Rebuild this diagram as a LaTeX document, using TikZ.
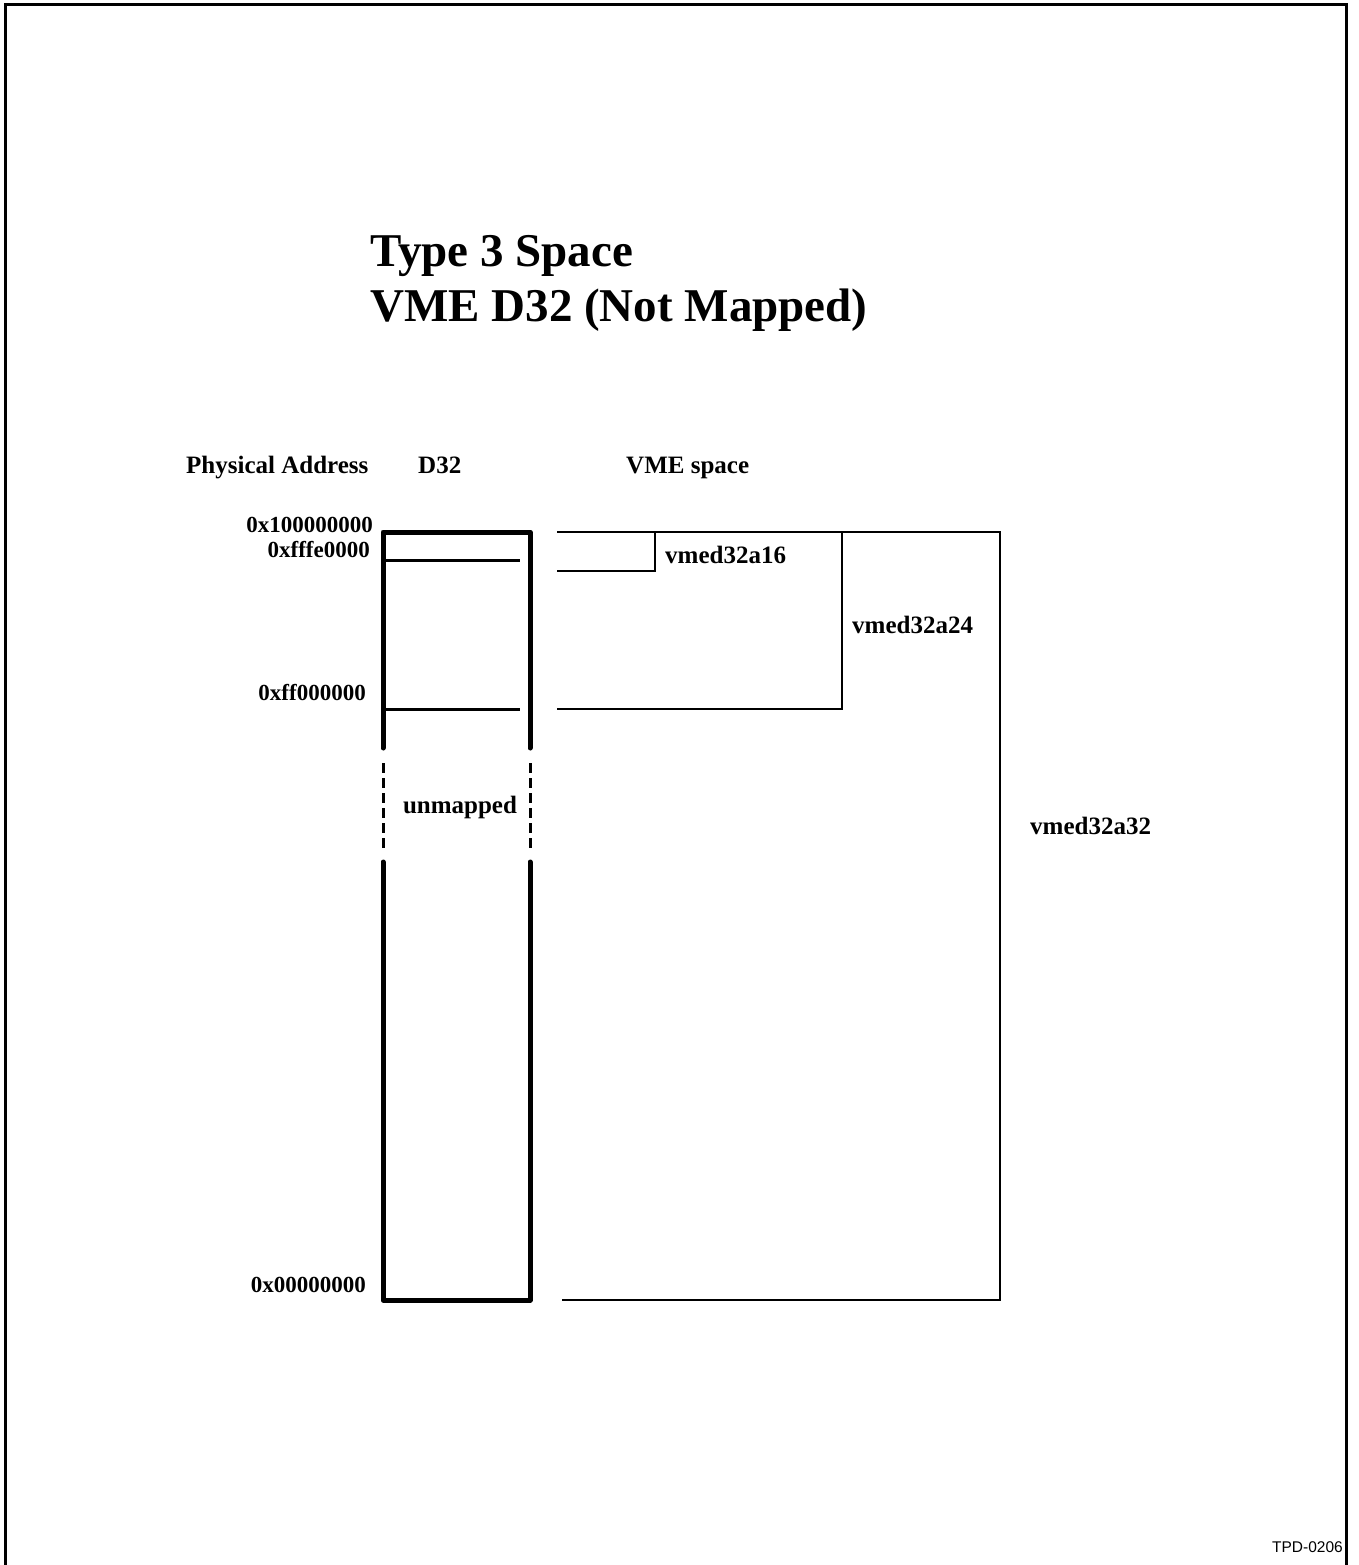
\documentclass[tikz,border=0pt]{standalone}
\usepackage{fontspec}
\setmainfont{Liberation Serif}
\newfontfamily\tpdfont{Liberation Sans}
\begin{document}
\begin{tikzpicture}[x=1pt,y=-1pt,
  title/.style={anchor=base west,inner sep=0pt,font=\fontsize{47}{56}\selectfont\bfseries},
  lbl/.style={inner sep=0pt,font=\fontsize{25}{29}\selectfont\bfseries},
  addr/.style={inner sep=0pt,anchor=base east,font=\fontsize{23}{27}\selectfont\bfseries},
  thickbox/.style={line width=5pt,line join=round,line cap=round},
  thinline/.style={line width=3pt},
  vmeline/.style={line width=2.5pt,line join=miter},
  dashline/.style={line width=3pt,dash pattern=on 10pt off 5pt}]
\useasboundingbox (0,0) rectangle (1358,1565);
% frame
\draw[line width=3pt] (5,1565) -- (5,5) -- (1346,5) -- (1346,1565);
% titles
\node[title] (t1) at (370,266) {Type 3 Space};
\node[title] (t2) at (370,321) {VME D32 (Not Mapped)};
% column headers
\node[lbl,anchor=base west] (hpa) at (186,473) {Physical Address};
\node[lbl,anchor=base west] (hd32) at (418,473) {D32};
\node[lbl,anchor=base west] (hvme) at (626,473) {VME space};
% address labels
\node[addr] (a1) at (373,532) {0x100000000};
\node[addr] (a2) at (370,557) {0xfffe0000};
\node[addr] (a3) at (366,700) {0xff000000};
\node[addr] (a4) at (366,1292) {0x00000000};
% D32 column
\draw[thickbox] (383,748) -- (383,532) -- (530,532) -- (530,748);
\draw[thickbox] (383,862) -- (383,1300) -- (530,1300) -- (530,862);
\draw[dashline] (383,763) -- (383,850);
\draw[dashline] (530,763) -- (530,850);
\draw[thinline] (383,560) -- (520,560);
\draw[thinline] (383,709) -- (520,709);
\node[lbl,anchor=base] (unm) at (460,813) {unmapped};
% VME space
\draw[vmeline] (557,532) -- (1000,532) -- (1000,1300) -- (562,1300);
\draw[vmeline] (557,571) -- (655,571) -- (655,532);
\draw[vmeline] (557,709) -- (842,709) -- (842,532);
\node[lbl,anchor=base west] (v16) at (665,563) {vmed32a16};
\node[lbl,anchor=base west] (v24) at (852,633) {vmed32a24};
\node[lbl,anchor=base west] (v32) at (1030,834) {vmed32a32};
% figure id
\node[anchor=base east,inner sep=0pt,font=\tpdfont\fontsize{15.5}{18}\selectfont] (tpd) at (1343,1552) {TPD-0206};
\end{tikzpicture}
\end{document}
